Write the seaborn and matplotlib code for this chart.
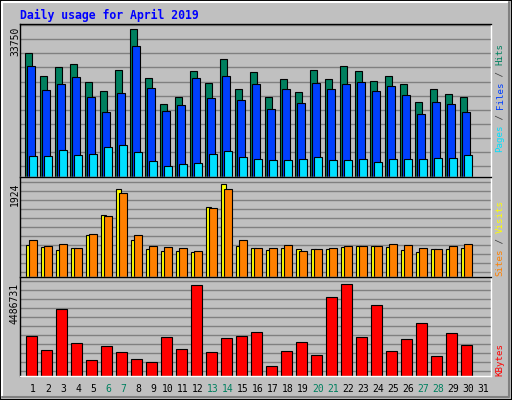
import numpy as np
import matplotlib
matplotlib.use("Agg")
import matplotlib.pyplot as plt
import seaborn as sns
from matplotlib.patches import Rectangle
from matplotlib.lines import Line2D

days = list(range(1, 31))
hits = [28250,22980,25050,25730,21610,19550,24360,33750,22530,16570,18170,24130,21380,26880,20010,
        23900,18170,22300,19320,24360,22300,25280,24130,21840,22980,21150,17030,20010,18860,18170]
files = [25280,19780,21150,22760,18170,14740,19090,29860,20240,14970,16340,22530,17950,22980,17490,
         21150,15650,20010,16800,21380,20010,21150,21610,19550,20690,18630,14510,17030,16570,14740]
pages = [4890,4890,6260,5120,5350,6950,7410,5800,3740,2600,3050,3280,5350,6030,4660,
         4200,3970,3970,4200,4660,3970,3970,4200,3510,4200,4200,4200,4430,4430,5120]
visits = [674,632,570,612,862,1279,1820,778,591,549,549,528,1446,1924,653,
          612,570,612,591,591,591,632,653,653,632,570,528,591,591,612]
sites = [758,653,695,612,883,1258,1738,862,653,632,612,549,1425,1820,778,
         612,612,674,549,591,612,653,653,653,695,674,612,591,653,695]
kbytes = [1981000,1294000,3259000,1638000,802000,1490000,1195000,852000,704000,1932000,
          1343000,4438000,1195000,1883000,1981000,2129000,508000,1245000,1687000,1048000,
          3848000,4486731,1932000,3455000,1245000,1834000,2571000,999000,2080000,1539000]
day_labels = [str(d) for d in range(1, 32)]
weekend = {6, 7, 13, 14, 20, 21, 27, 28}

W, H = 512, 400
BG = "#C0C0C0"
fig = plt.figure(figsize=(W/100, H/100), dpi=100, facecolor=BG)
sns.set_style("white")
plt.rcParams['font.family'] = ['DejaVu Sans Mono', 'DejaVu Sans']

def fx(px): return px / W
def fy(py): return 1 - py / H

# outer border
fig.patches.append(Rectangle((0, 0), 1, 1, transform=fig.transFigure, fill=False,
                             edgecolor="black", lw=1.5))
fig.add_artist(Line2D([fx(2), fx(2), fx(509)], [fy(397), fy(2), fy(2)], transform=fig.transFigure, color="white", lw=1.5))
fig.add_artist(Line2D([fx(2), fx(509), fx(509)], [fy(397), fy(397), fy(2)], transform=fig.transFigure, color="#808080", lw=1.5))

xl, xr = 20, 491
def mkax(top, bot):
    ax = fig.add_axes([fx(xl), fy(bot), (xr - xl) / W, (bot - top) / H])
    ax.set_facecolor(BG)
    for s in ax.spines.values():
        s.set_linewidth(1)
    ax.spines['top'].set_color('black'); ax.spines['left'].set_color('black')
    ax.spines['bottom'].set_color('white'); ax.spines['right'].set_color('white')
    return ax

x = np.array(days, dtype=float)
XL = (0.22, 31.62)

def bars(ax, off, vals, w, c):
    sns.barplot(x=x + off, y=vals, native_scale=True, width=w, color=c,
                edgecolor="black", linewidth=0.8, ax=ax, saturation=1)

def finish(ax, top, gridstep, gridstart):
    ax.set_xlim(*XL)
    ax.set_ylim(0, top)
    ax.set_yticks(np.arange(gridstart, top, gridstep))
    ax.yaxis.grid(True, color="#808080", lw=1)
    ax.set_axisbelow(True)
    ax.set_xticks([]); ax.set_yticklabels([])
    ax.tick_params(left=False, bottom=False)
    ax.set_xlabel(""); ax.set_ylabel("")

ax1 = mkax(24, 177)
bars(ax1, -0.2, hits, 0.49, "#00805F")
bars(ax1, -0.067, files, 0.53, "#0040FF")
bars(ax1, 0.077, pages, 0.51, "#00E0FF")
t1 = max(hits) * (176.7 - 24) / 147.4
finish(ax1, t1, max(hits) * 14 / 147.4, max(hits) * 11.3 / 147.4)

ax2 = mkax(177, 277)
bars(ax2, -0.22, visits, 0.36, "#FFFF00")
bars(ax2, 0.077, sites, 0.51, "#FF8000")
t2 = max(visits) * 99.7 / 92.4
finish(ax2, t2, max(visits) * 9 / 92.4, max(visits) * 5 / 92.4)

ax3 = mkax(277, 376)
bars(ax3, -0.013, kbytes, 0.69, "#FF0000")
t3 = max(kbytes) * 98.7 / 91.4
finish(ax3, t3, max(kbytes) * 9 / 91.4, max(kbytes) * 5 / 91.4)

# title
fig.text(fx(20), fy(15), "Daily usage for April 2019", color="#0000FF", fontsize=8.3,
         fontweight="bold", va="center", ha="left")

# max labels
for lab, ytop in [(str(max(hits)), 27), (str(max(visits)), 182), (str(max(kbytes)), 283)]:
    fig.text(fx(15), fy(ytop), lab, rotation=90, fontsize=7, va="top", ha="center", color="black")

# right legends
CW = 5.42
def vlegend(pieces, ybot, xpx=500):
    y = ybot
    for txt, col in pieces:
        fig.text(fx(xpx), fy(y), txt, rotation=90, fontsize=6.6, color=col,
                 va="bottom", ha="center")
        y -= CW * len(txt)

vlegend([("Pages", "#00E0FF"), (" / ", "#404040"), ("Files", "#0040FF"),
         (" / ", "#404040"), ("Hits", "#00805F")], 152)
vlegend([("Sites", "#FF8000"), (" / ", "#404040"), ("Visits", "#FFFF00")], 276)
vlegend([("KBytes", "#FF0000")], 376)

# day labels
for i, lab in enumerate(day_labels):
    d = i + 1
    px = 33 + 15 * (d - 1)
    fig.text(fx(px), fy(389), lab, fontsize=7, ha="center", va="center",
             color="#00805F" if d in weekend else "black")

fig.savefig("out.png", dpi=100, facecolor=BG)
